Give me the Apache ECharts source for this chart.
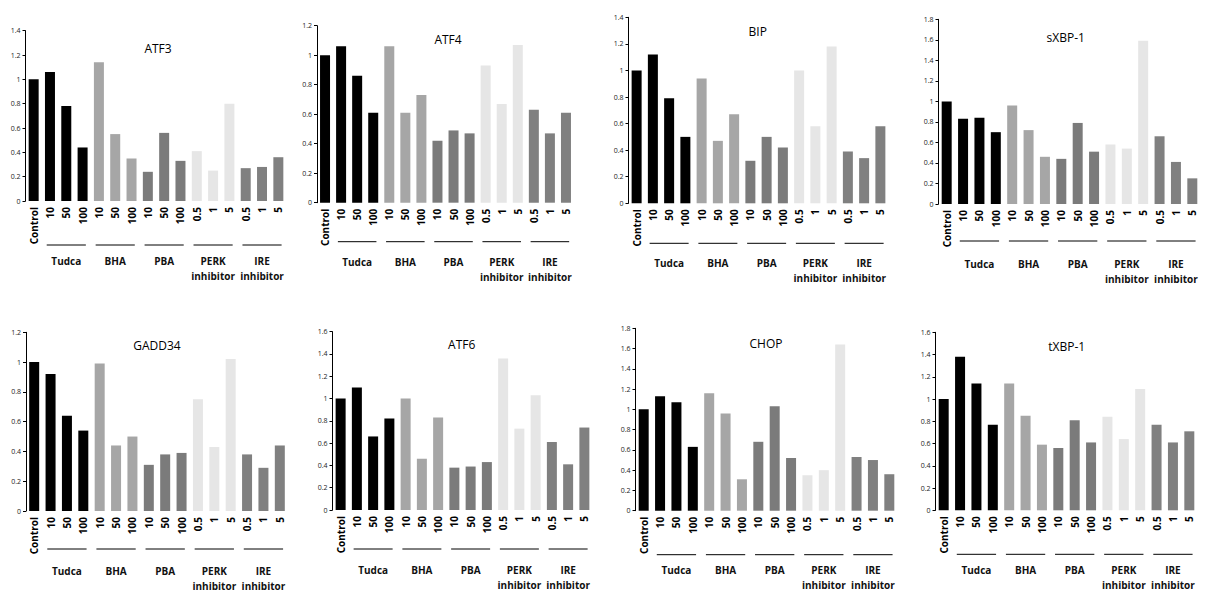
<!DOCTYPE html>
<html>
<head>
<meta charset="utf-8">
<script src="https://cdn.jsdelivr.net/npm/echarts@6/dist/echarts.min.js"></script>
<style>
html,body{margin:0;padding:0;background:#fff;}
#c{width:1214px;height:593px;}
</style>
</head>
<body>
<div id="c"></div>
<script>
// ---- data ----
const categories = ['Control','10','50','100','10','50','100','10','50','100','0.5','1','5','0.5','1','5'];
const groupNames = ['Tudca','BHA','PBA','PERK\ninhibitor','IRE\ninhibitor'];
const groupStart = [1, 4, 7, 10, 13];
const titles = ['ATF3','ATF4','BIP','sXBP-1','GADD34','ATF6','CHOP','tXBP-1'];
const yMax = [1.4, 1.2, 1.4, 1.8, 1.2, 1.6, 1.8, 1.6];

const atf3   = [1.00,1.06,0.78,0.44, 1.14,0.55,0.35, 0.24,0.56,0.33, 0.41,0.25,0.80, 0.27,0.28,0.36];
const atf4   = [1.00,1.06,0.86,0.61, 1.06,0.61,0.73, 0.42,0.49,0.47, 0.93,0.67,1.07, 0.63,0.47,0.61];
const bip    = [1.00,1.12,0.79,0.50, 0.94,0.47,0.67, 0.32,0.50,0.42, 1.00,0.58,1.18, 0.39,0.34,0.58];
const sxbp1  = [1.00,0.83,0.84,0.70, 0.96,0.72,0.46, 0.44,0.79,0.51, 0.58,0.54,1.59, 0.66,0.41,0.25];
const gadd34 = [1.00,0.92,0.64,0.54, 0.99,0.44,0.50, 0.31,0.38,0.39, 0.75,0.43,1.02, 0.38,0.29,0.44];
const atf6   = [1.00,1.10,0.66,0.82, 1.00,0.46,0.83, 0.38,0.39,0.43, 1.36,0.73,1.03, 0.61,0.41,0.74];
const chop   = [1.00,1.13,1.07,0.63, 1.16,0.96,0.31, 0.68,1.03,0.52, 0.35,0.40,1.64, 0.53,0.50,0.36];
const txbp1  = [1.00,1.38,1.14,0.77, 1.14,0.85,0.59, 0.56,0.81,0.61, 0.84,0.64,1.09, 0.77,0.61,0.71];
const seriesValues = [atf3, atf4, bip, sxbp1, gadd34, atf6, chop, txbp1];

// ---- layout / style (not data) ----
const barGroupOf = [0,1,1,1,2,2,2,3,3,3,4,4,4,5,5,5];
const groupColors = ['#000000','#000000','#a6a6a6','#7b7b7b','#e6e6e6','#808080'];
const layout = [
  {left:25.5, top:30.7,  width:261, height:170.3, tx:153,    ty:45,    lineOff:44},
  {left:317,  top:25.7,  width:257, height:177,   tx:443,    ty:36,    lineOff:39},
  {left:628.5,top:17.3,  width:260, height:186,   tx:752.7,  ty:28.3,  lineOff:40},
  {left:938.5,top:19.3,  width:262, height:184.7, tx:1060.7, ty:34,    lineOff:37},
  {left:26,   top:332.3, width:262, height:178.7, tx:152,    ty:342.7, lineOff:38},
  {left:332.5,top:331.7, width:260, height:178.3, tx:456.7,  ty:341.7, lineOff:39},
  {left:635.5,top:328.3, width:262, height:182.4, tx:761,    ty:340,   lineOff:44},
  {left:935.5,top:332.3, width:262, height:178,   tx:1061.7, ty:343.3, lineOff:44}
];
const FONT = '"Open Sans", "Noto Sans", sans-serif';

const chart = echarts.init(document.getElementById('c'), null, {renderer:'svg'});

const grid = [], xAxis = [], yAxis = [], series = [], title = [];
layout.forEach((L, p) => {
  grid.push({left:L.left, top:L.top, width:L.width, height:L.height, containLabel:false});
  xAxis.push({
    type:'category', gridIndex:p, data:categories,
    axisLine:{show:false}, axisTick:{show:false},
    axisLabel:{interval:0, rotate:90, margin:6, fontSize:10, fontWeight:'bold', color:'#000', fontFamily:FONT}
  });
  xAxis.push({
    type:'category', gridIndex:p, data:categories, position:'bottom',
    axisLine:{show:false}, axisTick:{show:false},
    axisLabel:{
      interval:0, margin:52, fontSize:10, lineHeight:15, fontWeight:'bold', color:'#111', fontFamily:FONT,
      formatter:(v, i) => { const g = groupStart.indexOf(i - 1); return g >= 0 ? groupNames[g] : ''; }
    }
  });
  yAxis.push({
    type:'value', gridIndex:p, min:0, max:yMax[p], interval:0.2,
    axisLine:{show:true, lineStyle:{color:'#000', width:1}},
    axisTick:{show:true, length:3, lineStyle:{color:'#000'}},
    splitLine:{show:false},
    axisLabel:{fontSize:7, margin:5, color:'#222', fontFamily:FONT}
  });
  series.push({
    type:'bar', xAxisIndex:p*2, yAxisIndex:p, barWidth:10,
    data: seriesValues[p].map((v, i) => ({value:v, itemStyle:{color:groupColors[barGroupOf[i]]}})),
    silent:true, animation:false
  });
  title.push({
    text:titles[p], left:L.tx, top:L.ty - 8, textAlign:'center',
    textStyle:{fontSize:12, fontWeight:'normal', color:'#000', fontFamily:FONT}
  });
});

chart.setOption({animation:false, title, grid, xAxis, yAxis, series});

// group underlines positioned through the axes' own scales
const graphics = [];
layout.forEach((L, p) => {
  const y0 = chart.convertToPixel({yAxisIndex:p}, 0) + L.lineOff;
  groupStart.forEach(s => {
    const a = chart.convertToPixel({xAxisIndex:p*2}, s);
    const b = chart.convertToPixel({xAxisIndex:p*2}, s + 2);
    const step = (b - a) / 2;
    graphics.push({
      type:'line', silent:true,
      shape:{x1:a - 0.2*step, y1:y0, x2:b + 0.2*step, y2:y0},
      style:{stroke:'#000', lineWidth:1}
    });
  });
});
chart.setOption({graphic:graphics});
</script>
</body>
</html>
